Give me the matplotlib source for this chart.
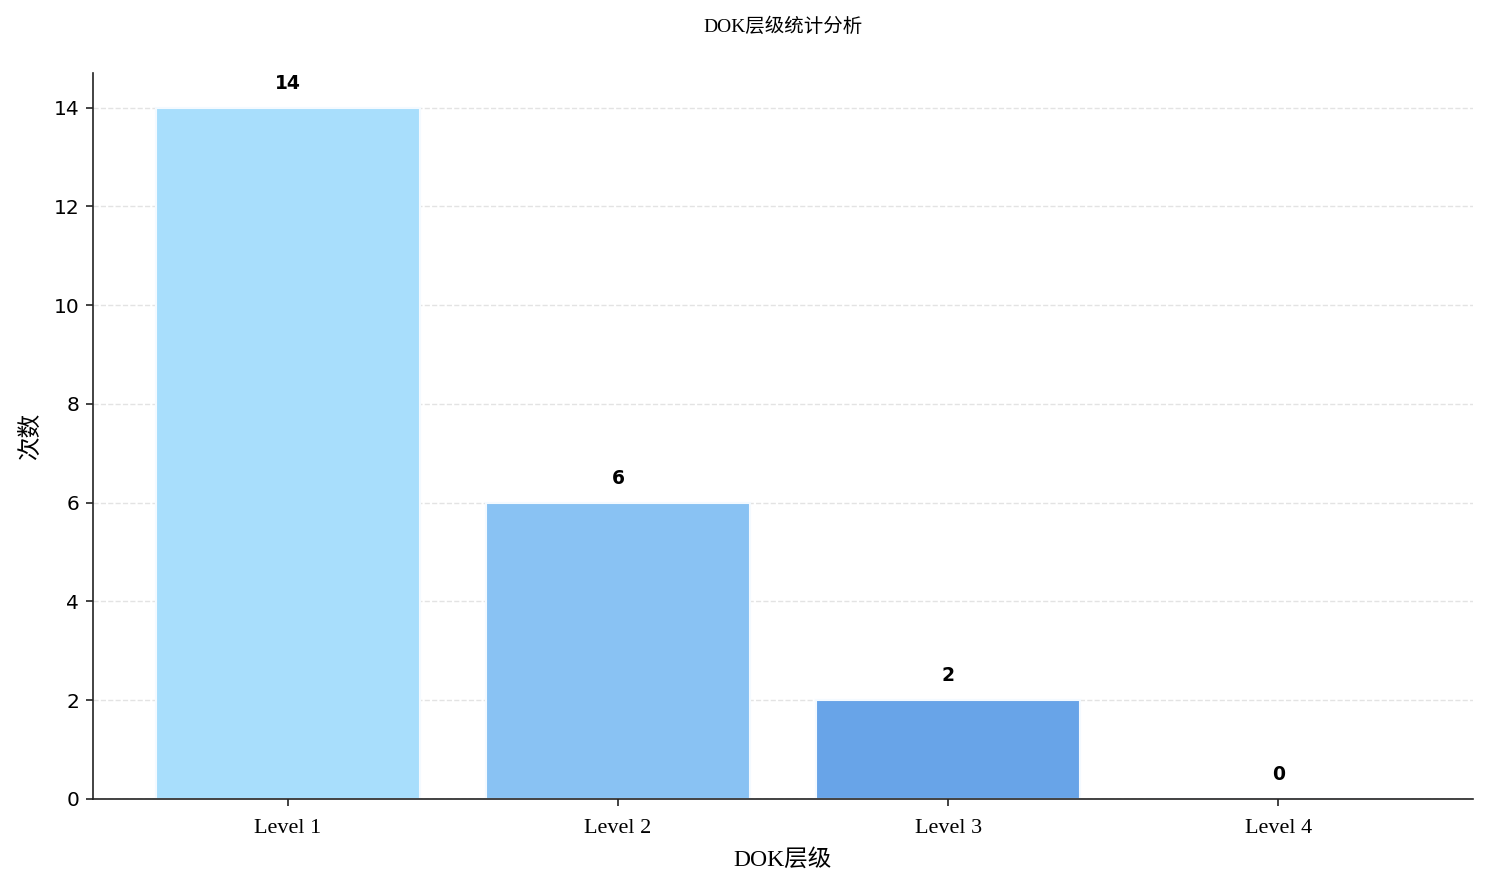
import matplotlib
matplotlib.use("Agg")
import matplotlib.pyplot as plt

categories = ["Level 1", "Level 2", "Level 3", "Level 4"]
counts = [14, 6, 2, 0]
bar_colors = ["#A8DEFC", "#89C2F3", "#68A4E8", "#4A86D8"]

title = "DOK层级统计分析"
xlabel = "DOK层级"
ylabel = "次数"

serif_cjk = ["Liberation Serif", "Noto Sans CJK SC", "DejaVu Sans"]

fig = plt.figure(figsize=(14.88, 8.89), dpi=100)
ax = fig.add_axes([93/1488, 1 - 799/889, (1473-93)/1488, (799-73)/889])

x = range(len(categories))
bars = ax.bar(x, counts, width=0.8, color=bar_colors, edgecolor="#F4FAFF", linewidth=1.5, zorder=2)

for xi, v in zip(x, counts):
    ax.text(xi, v + 0.3, str(v), ha="center", va="bottom", fontsize=13.5, fontweight="bold",
            family="DejaVu Sans", zorder=4)

ax.set_ylim(0, 14.7)
ax.set_xlim(-0.59, 3.59)
ax.set_xticks(list(x))
ax.set_xticklabels(categories, family=serif_cjk, fontsize=16)
ax.set_yticks([0, 2, 4, 6, 8, 10, 12, 14])
ax.tick_params(axis="y", labelsize=14.5, length=5, width=1.2, pad=5, color="#222222")
ax.tick_params(axis="x", length=5, width=1.2, pad=9.5, color="#222222")
ax.grid(axis="y", linestyle="--", color="#dddddd", alpha=0.8, linewidth=1, zorder=0)
ax.set_axisbelow(True)

for s in ["top", "right"]:
    ax.spines[s].set_visible(False)
for s in ["left", "bottom"]:
    ax.spines[s].set_color("#222222")
    ax.spines[s].set_linewidth(1.2)
    ax.spines[s].set_zorder(3)

ax.set_xlabel(xlabel, family=serif_cjk, fontsize=17, labelpad=8)
ax.set_ylabel(ylabel, family=["Noto Sans CJK SC", "DejaVu Sans"], fontsize=17, labelpad=8)
fig.text(783/1488, 1 - 27/889, title, ha="center", va="center",
         family=serif_cjk, fontsize=14)

fig.savefig("out.png", dpi=100)
